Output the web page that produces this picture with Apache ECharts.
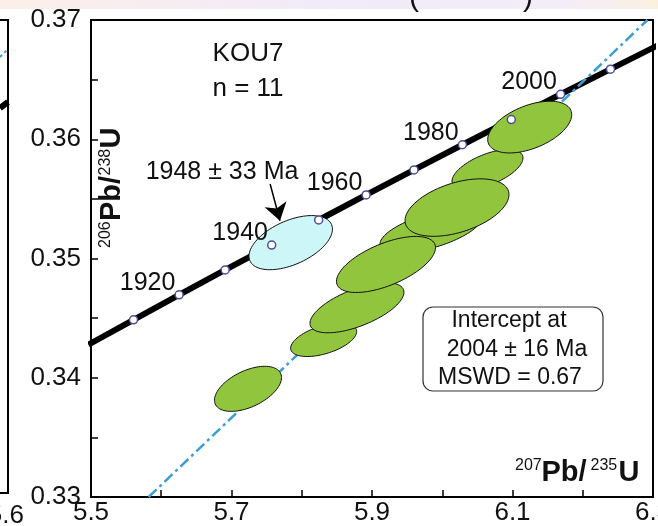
<!DOCTYPE html>
<html><head><meta charset="utf-8">
<script src="https://cdn.jsdelivr.net/npm/echarts@6.0.0/dist/echarts.min.js"></script>
<style>html,body{margin:0;padding:0;background:#fff}#c{width:658px;height:526px}</style>
</head><body><div id="c"></div>
<script>
// ---- axis ticks (labelled) ----
const xTickLabels = [5.5, 5.7, 5.9, 6.1, 6.3];
const yTickLabels = [0.33, 0.34, 0.35, 0.36, 0.37];

// ---- concordia (age in Ma, 207Pb/235U, 206Pb/238U) ----
const concAge = [1900, 1910, 1920, 1930, 1940, 1950, 1960, 1970, 1980, 1990, 2000, 2010, 2020];
const concX   = [5.4962, 5.5605, 5.6254, 5.6910, 5.7572, 5.8241, 5.8916, 5.9598, 6.0287, 6.0983, 6.1685, 6.2395, 6.3111];
const concY   = [0.34277, 0.34486, 0.34695, 0.34904, 0.35113, 0.35323, 0.35533, 0.35743, 0.35954, 0.36165, 0.36377, 0.36588, 0.36800];
const labelledAges = [1920, 1940, 1960, 1980, 2000];

// ---- discordia (regression line) ----
const discX = [5.582, 6.292];
const discY = [0.330, 0.370];

// ---- error ellipses: centre, half-width, half-height, correlation, kind (1 = excluded/cyan) ----
const ellCX   = [5.7843, 5.7235, 5.8312, 5.8786, 5.9840, 6.0644, 5.9199, 6.0210, 6.1245];
const ellCY   = [0.35133, 0.33907, 0.34318, 0.34587, 0.35233, 0.35746, 0.34950, 0.35427, 0.36102];
const ellSX   = [0.0594, 0.0477, 0.0470, 0.0669, 0.0726, 0.0505, 0.0705, 0.0740, 0.0598];
const ellSY   = [0.00227, 0.00189, 0.00140, 0.00210, 0.00185, 0.00168, 0.00235, 0.00241, 0.00217];
const ellRho  = [0.50, 0.50, 0.50, 0.62, 0.60, 0.58, 0.60, 0.45, 0.48];
const ellKind = [1, 0, 0, 0, 0, 0, 0, 0, 0];

// ---- annotation arrow (data units) ----
const arrowFrom = [5.7550, 0.35625];
const arrowTo   = [5.7690, 0.35317];

const FONT = '"Liberation Sans", Arial, Helvetica, sans-serif';
const GREEN = '#91c53e';
const CYAN = '#cdf6f8';

const chart = echarts.init(document.getElementById('c'), null, {renderer: 'canvas'});

const ellData = ellCX.map((x, i) => [x, ellCY[i], ellSX[i], ellSY[i], ellRho[i], ellKind[i]]);
const concLine = concX.map((x, i) => [x, concY[i]]);
const dotData = concAge.map((a, i) => ({value: [concX[i], concY[i]], age: a}))
  .filter(d => d.value[0] >= xTickLabels[0] && d.value[0] <= xTickLabels[xTickLabels.length - 1]);

function isLabelled(v, arr) { return arr.some(t => Math.abs(t - v) < 1e-6); }

function txt(text, x, y, size, opts) {
  opts = opts || {};
  return {
    type: 'text', x: 0, y: 0, z: opts.z || 10,
    style: {
      text: text, x: x, y: y, fill: opts.fill || '#111',
      fontSize: size, fontFamily: FONT, fontWeight: opts.bold ? 'bold' : 'normal',
      align: opts.align || 'center', verticalAlign: 'middle',
      textAlign: opts.align || 'center', textVerticalAlign: 'middle'
    }
  };
}

const option = {
  animation: false,
  backgroundColor: '#fff',
  grid: {left: 91, right: 5, top: 20, bottom: 29, show: true, borderColor: '#000', borderWidth: 2,
    backgroundColor: 'transparent', containLabel: false, outerBoundsMode: 'none'},
  xAxis: {
    type: 'value', min: xTickLabels[0], max: xTickLabels[xTickLabels.length - 1], interval: 0.1,
    axisLine: {show: true, lineStyle: {color: '#000', width: 2}},
    axisTick: {show: true, inside: true, length: 7, lineStyle: {color: '#000', width: 1.5}},
    splitLine: {show: false},
    axisLabel: {
      margin: 3, fontSize: 26, fontFamily: FONT, color: '#111', hideOverlap: false,
      formatter: v => isLabelled(v, xTickLabels) ? v.toFixed(1) : ''
    }
  },
  yAxis: {
    type: 'value', min: yTickLabels[0], max: yTickLabels[yTickLabels.length - 1], interval: 0.005,
    axisLine: {show: true, lineStyle: {color: '#000', width: 2}},
    axisTick: {show: true, inside: true, length: 7, lineStyle: {color: '#000', width: 1.5}},
    splitLine: {show: false},
    axisLabel: {
      margin: 10, fontSize: 26, fontFamily: FONT, color: '#111', hideOverlap: false,
      formatter: v => isLabelled(v, yTickLabels) ? v.toFixed(2) : ''
    }
  },
  series: [
    {
      name: 'concordia', type: 'line', data: concLine, showSymbol: false, clip: true, z: 2,
      lineStyle: {color: '#000', width: 6}, silent: true
    },
    {
      name: 'discordia', type: 'line', data: discX.map((x, i) => [x, discY[i]]), showSymbol: false, clip: true, z: 3,
      lineStyle: {color: '#3a9fd2', width: 2.5, type: [11, 4, 3, 4]}, silent: true
    },
    {
      name: 'ellipses', type: 'custom', coordinateSystem: 'cartesian2d', z: 4,
      data: ellData, encode: {x: 0, y: 1},
      renderItem: function (params, api) {
        const cx = api.value(0), cy = api.value(1), sx = api.value(2), sy = api.value(3), r = api.value(4), k = api.value(5);
        const s = Math.sqrt(1 - r * r);
        const pts = [];
        for (let i = 0; i < 90; i++) {
          const t = i / 90 * 2 * Math.PI;
          pts.push(api.coord([cx + sx * Math.cos(t), cy + sy * (r * Math.cos(t) + s * Math.sin(t))]));
        }
        return {type: 'polygon', shape: {points: pts}, style: {fill: k === 1 ? CYAN : GREEN, stroke: '#111', lineWidth: 1}};
      }
    },
    {
      name: 'ticks', type: 'scatter', data: dotData, z: 5, symbol: 'circle', symbolSize: 8,
      itemStyle: {color: '#fff', borderColor: '#4d4d9f', borderWidth: 1.5, opacity: 1},
      label: {
        show: true, position: 'left', distance: 0, offset: [1, -12],
        fontSize: 25, fontFamily: FONT, color: '#111',
        formatter: p => labelledAges.indexOf(p.data.age) >= 0 ? String(p.data.age) : ''
      },
      silent: true
    },
    {
      name: 'arrow', type: 'line', data: [], z: 6,
      markLine: {
        silent: true, symbol: ['none', 'arrow'], symbolSize: 17,
        lineStyle: {color: '#000', width: 1.5, type: 'solid'}, label: {show: false},
        itemStyle: {color: '#000'},
        data: [[{coord: arrowFrom}, {coord: arrowTo}]]
      }
    }
  ],
  graphic: [
    // faint page banner from the source figure
    {type: 'rect', shape: {x: 0, y: 0, width: 658, height: 9}, z: 0,
      style: {fill: new echarts.graphic.LinearGradient(0, 0, 1, 0, [
        {offset: 0, color: '#fcefe8'}, {offset: 0.5, color: '#f1ebfa'}, {offset: 0.85, color: '#f3edf8'}, {offset: 1, color: '#fbf0e0'}])}},
    txt('(', 414, -2, 30, {}),
    txt(')', 528, -2, 30, {}),
    // neighbouring panel edge on the left
    {type: 'polyline', shape: {points: [[0, 20], [8, 20], [8, 493], [0, 493]]}, style: {stroke: '#000', lineWidth: 2, fill: null}},
    {type: 'line', shape: {x1: 0, y1: 108, x2: 8, y2: 102}, style: {stroke: '#000', lineWidth: 6}},
    {type: 'line', shape: {x1: 0, y1: 57, x2: 7, y2: 50}, style: {stroke: '#3a9fd2', lineWidth: 2, lineDash: [3, 3]}},
    txt('5.6', 24, 516, 26, {align: 'right'}),
    // annotations
    txt('KOU7', 248, 54, 26),
    txt('n = 11', 248, 89, 26),
    txt('1948 \u00b1 33 Ma', 222, 172, 25),
    {type: 'rect', shape: {x: 423, y: 307, width: 180, height: 84, r: 10}, z: 8,
      style: {fill: '#fff', stroke: '#333', lineWidth: 1.2}},
    txt('Intercept at', 509, 321, 23),
    txt('2004 \u00b1 16 Ma', 517, 350, 23),
    txt('MSWD = 0.67', 510, 378, 23),
    // x axis title
    txt('207', 515, 466, 16, {align: 'left'}),
    txt('Pb/', 541.5, 472.5, 29, {align: 'left', bold: true}),
    txt('235', 590.5, 466, 16, {align: 'left'}),
    txt('U', 618.5, 472.5, 29, {align: 'left', bold: true}),
    // y axis title (rotated)
    {type: 'group', x: 112, y: 186, rotation: Math.PI / 2, z: 10, children: [
      txt('206', -62, -6.5, 16, {align: 'left'}),
      txt('Pb/', -35, 0, 29, {align: 'left', bold: true}),
      txt('238', 10.5, -6.5, 16, {align: 'left'}),
      txt('U', 37.5, 0, 29, {align: 'left', bold: true})
    ]}
  ]
};
chart.setOption(option);
</script>
</body></html>
